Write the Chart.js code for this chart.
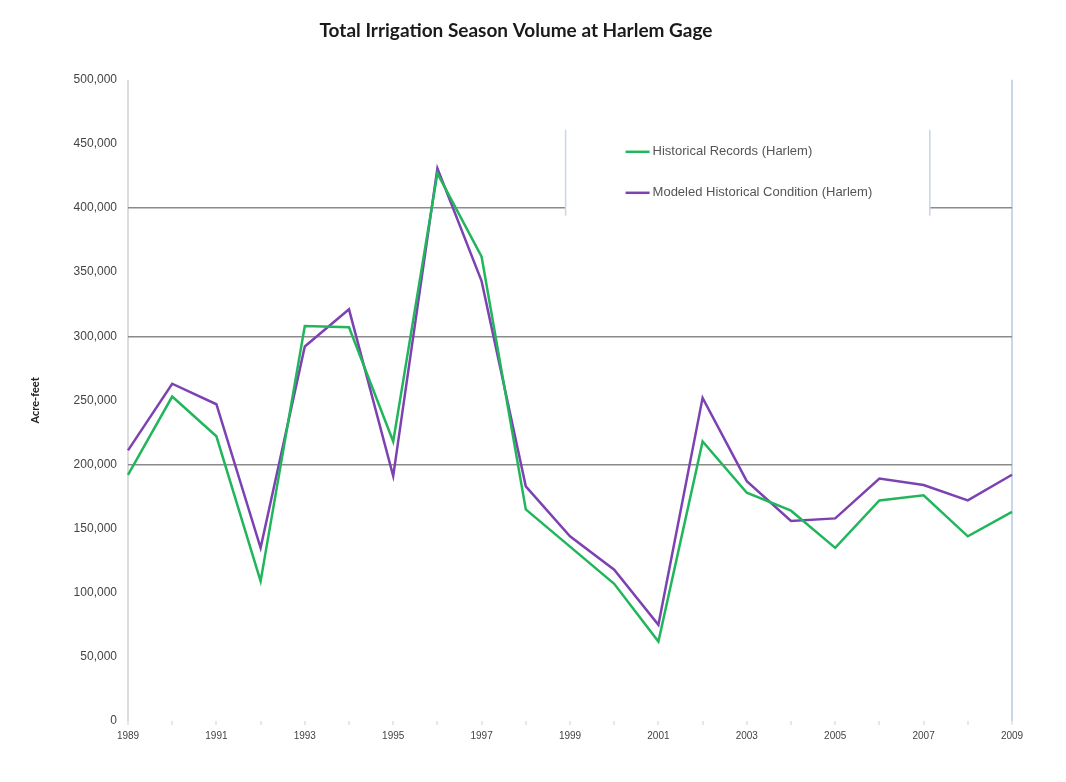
<!DOCTYPE html>
<html lang="en">

<head>
    <meta charset="UTF-8">
    <title>Total Irrigation Season Volume at Harlem Gage</title>
    <style>
        body { margin: 0; background: #fff; }
        #wrap { width: 1066px; height: 782px; position: relative; }
    </style>
</head>

<body>
    <div id="wrap">
        <canvas id="myChart"></canvas>
    </div>
    <script src="https://cdn.jsdelivr.net/npm/chart.js"></script>
    <script>
        // years on the x axis
        const years = ['1989', '1990', '1991', '1992', '1993', '1994', '1995', '1996', '1997', '1998', '1999',
            '2000', '2001', '2002', '2003', '2004', '2005', '2006', '2007', '2008', '2009'];

        // acre-feet
        const historical = [192000, 253000, 222000, 109000, 308000, 307000, 218000, 427000, 362000, 165000, 136000,
            107000, 62000, 218000, 178000, 164000, 135000, 172000, 176000, 144000, 163000];
        const modeled = [211000, 263000, 247000, 135000, 292000, 321000, 191000, 431000, 343000, 183000, 144000,
            118000, 75000, 252000, 187000, 156000, 158000, 189000, 184000, 172000, 192000];

        const seriesNames = ['Historical Records (Harlem)', 'Modeled Historical Condition (Harlem)'];
        const seriesColors = ['#22b65c', '#7d42b2'];
        const darkGridValues = [200000, 300000, 400000];

        // legend box drawn inside the plot, over the 400,000 line
        const boxLegend = {
            id: 'boxLegend',
            beforeDatasetsDraw(chart) {
                const ctx = chart.ctx;
                const a = chart.chartArea;
                const left = a.left + (a.right - a.left) * 0.495;
                const right = a.left + (a.right - a.left) * 0.907;
                const top = a.top + 50;
                const bottom = a.top + 136;
                ctx.save();
                ctx.fillStyle = '#fff';
                ctx.fillRect(left, top, right - left, bottom - top);
                ctx.strokeStyle = '#c8d5ea';
                ctx.lineWidth = 1.5;
                ctx.beginPath();
                ctx.moveTo(left, top); ctx.lineTo(left, bottom);
                ctx.moveTo(right, top); ctx.lineTo(right, bottom);
                ctx.stroke();
                ctx.font = '13px "Liberation Sans", sans-serif';
                ctx.textBaseline = 'middle';
                chart.data.datasets.forEach(function (ds, i) {
                    const y = top + 22 + i * 41;
                    ctx.strokeStyle = ds.borderColor;
                    ctx.lineWidth = 2.5;
                    ctx.beginPath();
                    ctx.moveTo(left + 60, y); ctx.lineTo(left + 84, y);
                    ctx.stroke();
                    ctx.fillStyle = '#555';
                    ctx.fillText(ds.label, left + 87, y);
                });
                ctx.restore();
            }
        };

        const ctx = document.getElementById('myChart');
        const chart = new Chart(ctx, {
            type: 'line',
            data: {
                labels: years,
                datasets: [{
                    label: seriesNames[0],
                    data: historical,
                    borderColor: seriesColors[0],
                    backgroundColor: seriesColors[0],
                    borderWidth: 2.5,
                    pointRadius: 0,
                    tension: 0
                }, {
                    label: seriesNames[1],
                    data: modeled,
                    borderColor: seriesColors[1],
                    backgroundColor: seriesColors[1],
                    borderWidth: 2.5,
                    pointRadius: 0,
                    tension: 0
                }]
            },
            options: {
                responsive: true,
                maintainAspectRatio: false,
                animation: false,
                layout: {
                    padding: { left: 20, right: 54, top: 0, bottom: 21 }
                },
                scales: {
                    x: {
                        afterFit: function (s) { s.height = 40; },
                        border: { display: false },
                        grid: {
                            drawOnChartArea: true,
                            tickLength: 4,
                            lineWidth: 2,
                            color: function (c) {
                                if (c.index === 0) return '#dcdcdc';
                                if (c.index === years.length - 1) return '#c8d5ea';
                                return 'rgba(0,0,0,0)';
                            },
                            tickColor: '#d0d0d0',
                            tickWidth: 1
                        },
                        ticks: {
                            autoSkip: false,
                            maxRotation: 0,
                            padding: 5,
                            color: '#444',
                            font: { family: '"Liberation Sans", sans-serif', size: 10 },
                            callback: function (v, i) {
                                return i % 2 === 0 ? years[i] : '';
                            }
                        }
                    },
                    y: {
                        min: 0,
                        max: 500000,
                        afterFit: function (s) { s.width = 108; },
                        border: { display: false },
                        grid: {
                            drawTicks: false,
                            lineWidth: 1.5,
                            color: function (c) {
                                return darkGridValues.includes(c.tick.value) ? '#8a8a8a' : 'rgba(0,0,0,0)';
                            }
                        },
                        ticks: {
                            stepSize: 50000,
                            padding: 11,
                            color: '#444',
                            font: { family: '"Liberation Sans", sans-serif', size: 12 },
                            callback: function (v) { return v.toLocaleString('en-US'); }
                        },
                        title: {
                            display: true,
                            text: 'Acre-feet',
                            color: '#222',
                            font: { family: 'Lato, sans-serif', size: 11, weight: 'bold' },
                            padding: { top: 9, bottom: 11 }
                        }
                    }
                },
                plugins: {
                    legend: { display: false },
                    tooltip: { enabled: false },
                    title: {
                        display: true,
                        text: 'Total Irrigation Season Volume at Harlem Gage',
                        color: '#1a1a1a',
                        font: { family: 'Lato, sans-serif', size: 19, weight: 'bold' },
                        padding: { top: 19, bottom: 38 }
                    }
                }
            },
            plugins: [boxLegend]
        });
    </script>
</body>

</html>
